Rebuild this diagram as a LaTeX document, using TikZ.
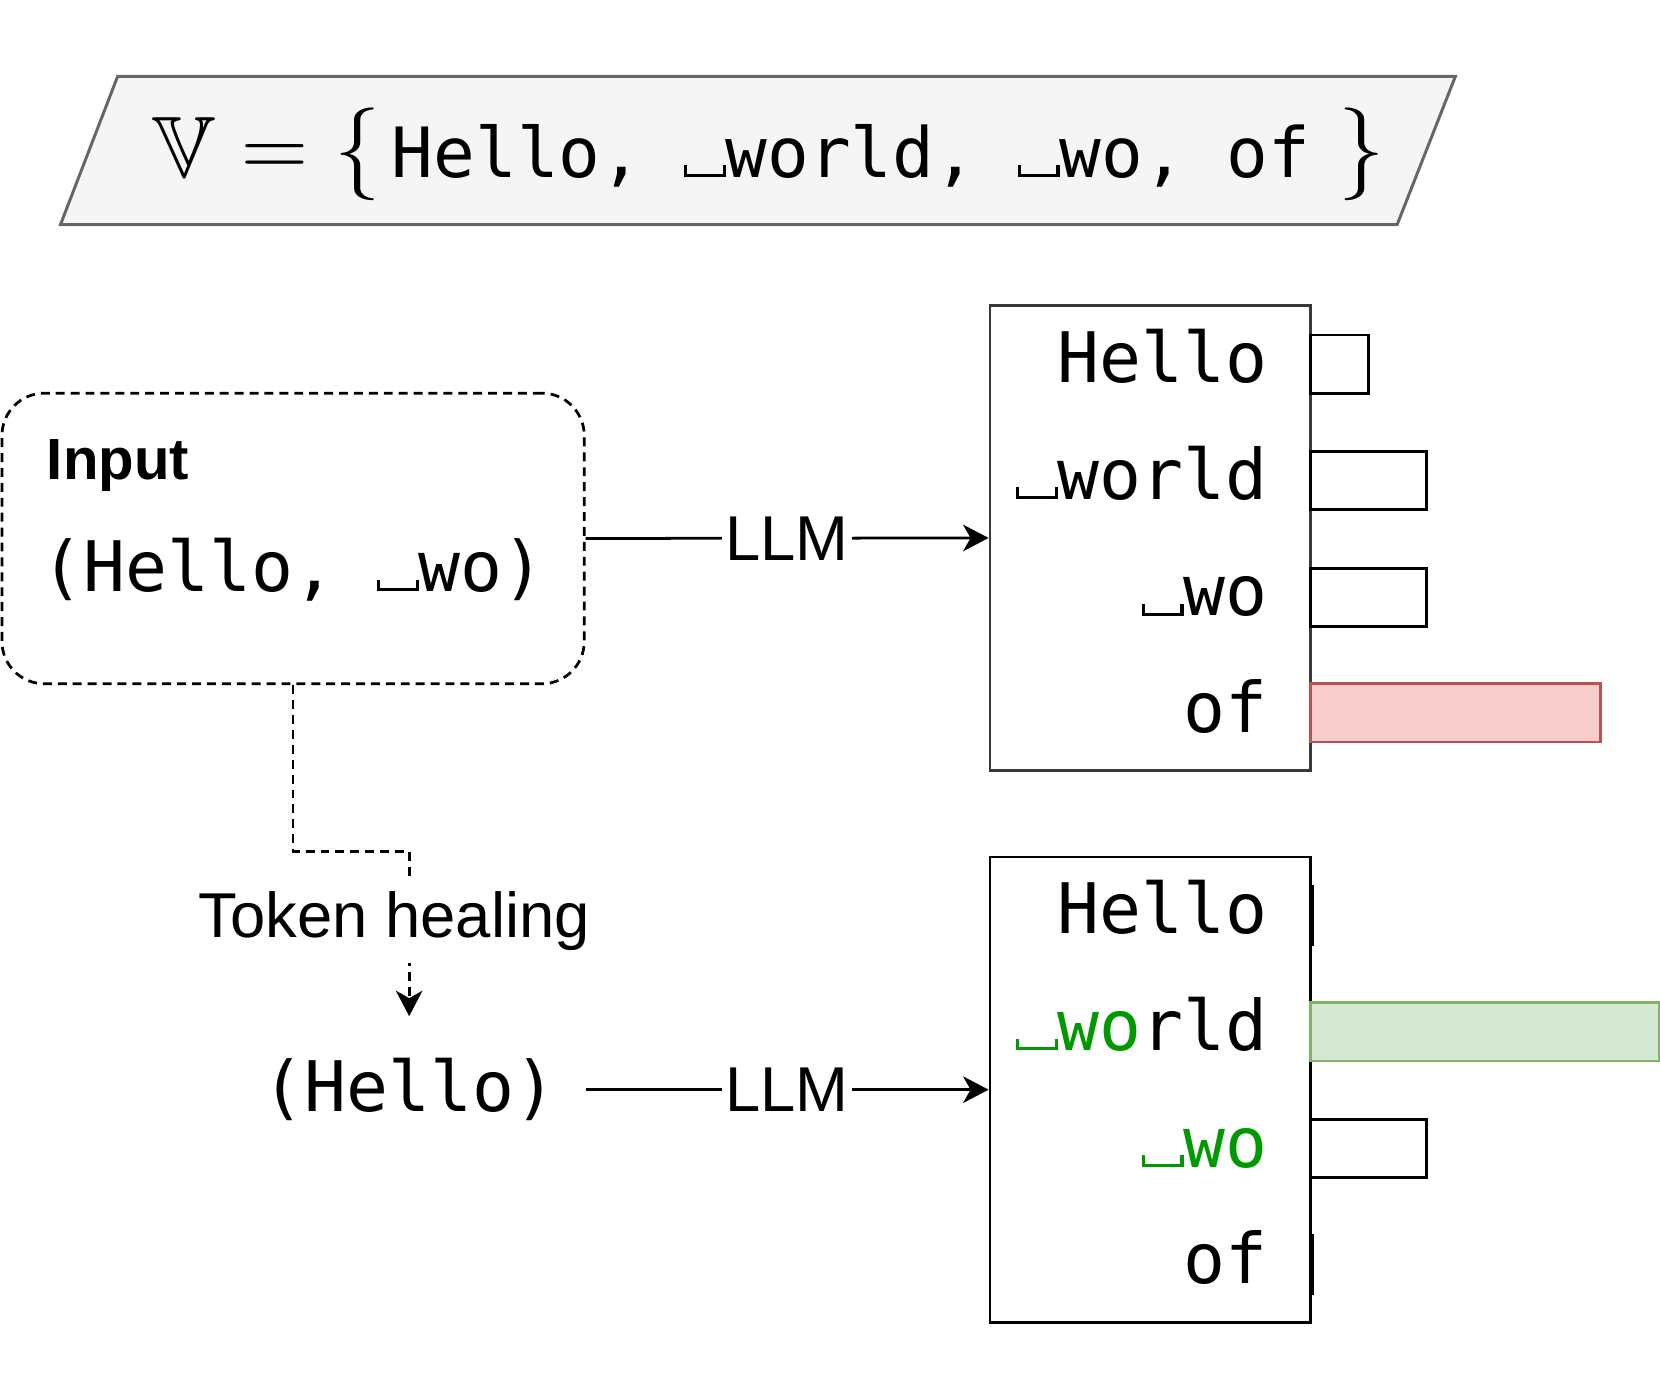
\documentclass[tikz,border=0pt]{standalone}
\usepackage{amssymb}
\usepackage{fontspec}
\setmainfont{Liberation Sans}
\setmonofont{DejaVu Sans Mono}
\usetikzlibrary{calc}
\usetikzlibrary{positioning}
\usetikzlibrary{arrows.meta}

\definecolor{vocabfill}{HTML}{F5F5F5}
\definecolor{vocabline}{HTML}{666666}
\definecolor{boxgray}{HTML}{36393D}
\definecolor{redfill}{HTML}{F8CECC}
\definecolor{redline}{HTML}{B85450}
\definecolor{greenfill}{HTML}{D5E8D4}
\definecolor{greenline}{HTML}{82B366}
\definecolor{healgreen}{HTML}{009900}

\newcommand{\tokspace}{\makebox[0.6em]{\rule{0.045em}{0.17em}\rule{0.51em}{0.045em}\rule{0.045em}{0.17em}}}
\newcommand{\monosize}{\fontsize{18.7}{22}\selectfont\ttfamily}
\newcommand{\sanssize}{\fontsize{17}{20}\selectfont}

\tikzset{
  tokbox/.style={minimum width=3.02cm, minimum height=4.39cm},
  tok/.style={anchor=base east, inner sep=0pt, font=\monosize},
  bar/.style={draw=black},
  llm/.style={fill=white, inner sep=0.03cm, font=\sanssize},
  healdash/.style={dash pattern=on 2.4pt off 1.6pt},
}

\begin{document}
\begin{tikzpicture}[%
  >={Stealth[length=2.4mm, width=2.5mm, inset=0.7mm]},
  x=0.01cm, y=-0.01cm,
  line width=0.026cm,
]
  \useasboundingbox (0,0) rectangle (1566,1304);

  % vocabulary
  \coordinate (V1) at (111,72);
  \coordinate (V2) at (1373,72);
  \coordinate (V3) at (1318,212);
  \coordinate (V4) at (57,212);
  \filldraw[fill=vocabfill, draw=vocabline, line width=0.028cm] (V1) -- (V2) -- (V3) -- (V4) -- cycle;
  \node[anchor=base west, inner sep=0pt] (vocab) at (143,167)
    {\fontsize{23.4}{28}\selectfont$\mathbb{V}=\{$\hspace{0.13em}{\fontsize{18.6}{22}\selectfont\ttfamily Hello, \tokspace world, \tokspace wo, of}\hspace{0.33em}$\}$};

  % input and healed input
  \node[draw, healdash, rounded corners=0.4cm, minimum width=5.49cm, minimum height=2.74cm] (input) at (276.5,508) {};
  \node[anchor=base west, inner sep=0pt, font=\fontsize{15.6}{18}\selectfont\bfseries] (inputlbl) at (43,452) {Input};
  \node[anchor=base, inner sep=0pt, font=\monosize] (inputtxt) at (276.5,558) {(Hello, \tokspace wo)};
  \node[minimum width=3.3cm, minimum height=1.36cm, font=\monosize] (heal) at (386,1028) {(Hello)};

  % next token distributions
  \node[tokbox, draw=boxgray] (probsA) at (1085,507.5) {};
  \node[tokbox, draw=black] (probsB) at (1085,1028) {};

  \node[tok] (a1) at (1197,361) {Hello};
  \node[tok] (a2) at (1197,471) {\tokspace world};
  \node[tok] (a3) at (1197,581) {\tokspace wo};
  \node[tok] (a4) at (1197,691) {of};

  \node[tok] (b1) at (1197,881) {Hello};
  \node[tok] (b2) at (1197,991) {{\color{healgreen}\tokspace wo}rld};
  \node[tok] (b3) at (1197,1101) {{\color{healgreen}\tokspace wo}};
  \node[tok] (b4) at (1197,1211) {of};

  \draw[bar] (1236,316) rectangle ++(55,55);
  \draw[bar] (1236,426) rectangle ++(110,55);
  \draw[bar] (1236,536) rectangle ++(110,55);
  \draw[bar, fill=redfill, draw=redline] (1236,645) rectangle ++(274,55);

  \draw[bar] (1236,836) rectangle ++(2,55);
  \draw[bar, fill=greenfill, draw=greenline] (1236,946) rectangle ++(329,55);
  \draw[bar] (1236,1056) rectangle ++(110,55);
  \draw[bar] (1236,1165) rectangle ++(2,55);

  % connectors
  \draw[->] (input.east) -- node[llm] {LLM} (probsA.west);
  \draw[->] (heal.east) -- node[llm] {LLM} (probsB.west);
  \draw[->, healdash] (input.south) -- ++(0,157)
    -| node[pos=0.71, xshift=-0.14cm, fill=white, inner xsep=0.04cm, inner ysep=0.12cm, font=\sanssize] (healtxt) {Token healing} (heal.north);

\end{tikzpicture}
\end{document}
